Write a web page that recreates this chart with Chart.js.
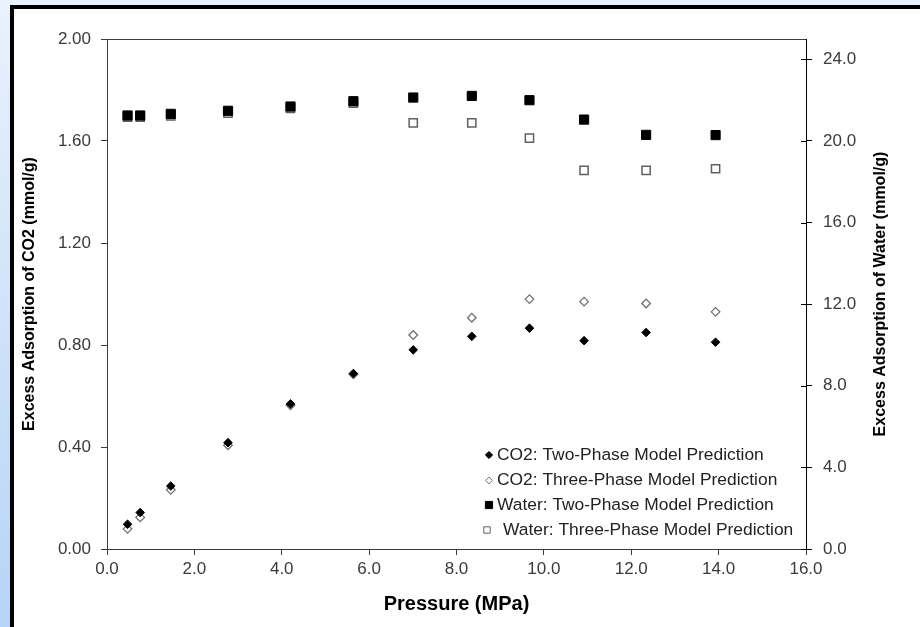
<!DOCTYPE html>
<html>
<head>
<meta charset="utf-8">
<script src="https://cdn.jsdelivr.net/npm/chart.js@4.4.1/dist/chart.umd.min.js"></script>
<style>
  html, body { margin: 0; padding: 0; }
  body { width: 920px; height: 627px; overflow: hidden; position: relative;
         background: linear-gradient(#e9f2fd, #b6d4f5); }
  #frame { position: absolute; left: 10px; top: 5px; width: 1000px; height: 700px;
           background: #fff; border-left: 4px solid #000; border-top: 4px solid #000; }
  #chart { position: absolute; left: 0; top: 0; }
</style>
</head>
<body>
<div id="frame"></div>
<canvas id="chart" width="920" height="627"></canvas>
<script>
// pressure (MPa) for every point
const pressure = [0.47, 0.76, 1.46, 2.77, 4.20, 5.64, 7.01, 8.35, 9.67, 10.92, 12.34, 13.93];

// CO2, left axis (mmol/g)
const co2TwoPhase   = [0.097, 0.143, 0.247, 0.417, 0.569, 0.688, 0.781, 0.834, 0.866, 0.817, 0.849, 0.811];
const co2ThreePhase = [0.079, 0.124, 0.232, 0.407, 0.564, 0.685, 0.839, 0.907, 0.980, 0.970, 0.963, 0.930];

// water, right axis (mmol/g)
const waterTwoPhase   = [21.25, 21.25, 21.33, 21.48, 21.69, 21.95, 22.13, 22.21, 22.00, 21.05, 20.30, 20.29];
const waterThreePhase = [21.17, 21.17, 21.23, 21.37, 21.60, 21.86, 20.89, 20.89, 20.14, 18.56, 18.56, 18.64];

const seriesLabels = [
  'CO2: Two-Phase Model Prediction',
  'CO2: Three-Phase Model Prediction',
  'Water: Two-Phase Model Prediction',
  'Water: Three-Phase Model Prediction'
];
const xTitle = 'Pressure (MPa)';
const leftTitle = 'Excess Adsorption of CO2 (mmol/g)';
const rightTitle = 'Excess Adsorption of Water (mmol/g)';

const FONT = '"Liberation Sans", Arial, sans-serif';
const AXIS = '#3c3c3c';

function points(ys) {
  return pressure.map((x, i) => ({x: x, y: ys[i]}));
}

function marker(ctx, style, x, y, r) {
  ctx.beginPath();
  if (style === 'rectRot') {
    ctx.moveTo(x, y - r); ctx.lineTo(x + r, y); ctx.lineTo(x, y + r); ctx.lineTo(x - r, y);
    ctx.closePath();
  } else {
    ctx.rect(x - r, y - r, 2 * r, 2 * r);
  }
  ctx.fill();
  ctx.stroke();
}

// legend sits inside the plot, bottom right, like the excel one
const insideLegend = {
  id: 'insideLegend',
  afterDraw(chart) {
    const ctx = chart.ctx;
    const rows = [455, 480.5, 505, 530];
    const sizes = [3.6, 3.4, 3.6, 3.2];
    ctx.save();
    chart.data.datasets.forEach((ds, i) => {
      const mx = i === 3 ? 487 : 489;
      const tx = i === 3 ? 503 : 497;
      ctx.fillStyle = ds.backgroundColor;
      ctx.strokeStyle = ds.borderColor;
      ctx.lineWidth = 1;
      marker(ctx, ds.pointStyle, mx, rows[i], sizes[i]);
      ctx.font = '17.4px ' + FONT;
      ctx.fillStyle = '#222';
      ctx.textBaseline = 'middle';
      ctx.textAlign = 'left';
      ctx.fillText(ds.label, tx, rows[i]);
    });
    ctx.restore();
  }
};

// right axis: ticks cross the line, title reads bottom to top
const rightAxisExtras = {
  id: 'rightAxisExtras',
  afterDraw(chart) {
    const ctx = chart.ctx;
    const sc = chart.scales.y2;
    const area = chart.chartArea;
    ctx.save();
    ctx.strokeStyle = '#000';
    ctx.lineWidth = 1;
    sc.ticks.forEach(t => {
      const py = Math.round(sc.getPixelForValue(t.value)) + 0.5;
      ctx.beginPath();
      ctx.moveTo(area.right - 5, py);
      ctx.lineTo(area.right, py);
      ctx.stroke();
    });
    ctx.translate(881, (area.top + area.bottom) / 2);
    ctx.rotate(-Math.PI / 2);
    ctx.font = 'bold 16px ' + FONT;
    ctx.fillStyle = '#000';
    ctx.textAlign = 'center';
    ctx.textBaseline = 'middle';
    ctx.fillText(rightTitle, 0, 0);
    ctx.restore();
  }
};

const tickFont = {family: FONT, size: 17};

const ctx = document.getElementById('chart').getContext('2d');
const chart = new Chart(ctx, {
  type: 'scatter',
  data: {
    datasets: [
      {
        label: seriesLabels[0], data: points(co2TwoPhase), yAxisID: 'y',
        pointStyle: 'rectRot', pointRadius: 4.3, pointHoverRadius: 4.3,
        backgroundColor: '#000', borderColor: '#000', borderWidth: 1
      },
      {
        label: seriesLabels[1], data: points(co2ThreePhase), yAxisID: 'y',
        pointStyle: 'rectRot', pointRadius: 4.3, pointHoverRadius: 4.3,
        backgroundColor: '#fff', borderColor: '#707070', borderWidth: 1.3
      },
      {
        label: seriesLabels[2], data: points(waterTwoPhase), yAxisID: 'y2',
        pointStyle: 'rect', pointRadius: 6.5, pointHoverRadius: 6.5,
        backgroundColor: '#000', borderColor: '#000', borderWidth: 1
      },
      {
        label: seriesLabels[3], data: points(waterThreePhase), yAxisID: 'y2',
        pointStyle: 'rect', pointRadius: 5.8, pointHoverRadius: 5.8,
        backgroundColor: '#fff', borderColor: '#606060', borderWidth: 1.5
      }
    ]
  },
  options: {
    responsive: false,
    animation: false,
    layout: { padding: { top: 39, left: 0, right: 0, bottom: 0 } },
    plugins: { legend: { display: false }, tooltip: { enabled: false } },
    scales: {
      x: {
        type: 'linear', position: 'bottom', min: 0, max: 16,
        afterFit: s => { s.height = 78; },
        ticks: { stepSize: 2, font: tickFont, color: '#3a3a3a', padding: 4,
                 callback: v => v.toFixed(1) },
        grid: { drawOnChartArea: false, tickLength: 6, color: AXIS },
        border: { color: AXIS },
        title: { display: true, text: xTitle, color: '#000',
                 font: { family: FONT, size: 20, weight: 'bold' },
                 padding: { top: 0, bottom: 11 } }
      },
      x2: {
        type: 'linear', position: 'top', min: 0, max: 16,
        afterFit: s => { s.height = 0; },
        ticks: { display: false },
        grid: { drawOnChartArea: false, drawTicks: false, color: AXIS },
        border: { color: AXIS }
      },
      y: {
        type: 'linear', position: 'left', min: 0, max: 2,
        afterFit: s => { s.width = 107; },
        ticks: { stepSize: 0.4, font: tickFont, color: '#3a3a3a', padding: 10,
                 callback: v => v.toFixed(2) },
        grid: { drawOnChartArea: false, tickLength: 6, color: AXIS },
        border: { color: AXIS },
        title: { display: true, text: leftTitle, color: '#000',
                 font: { family: FONT, size: 16, weight: 'bold' },
                 padding: { top: 20, bottom: 0 } }
      },
      y2: {
        type: 'linear', position: 'right', min: 0, max: 25,
        afterFit: s => { s.width = 114; },
        ticks: { stepSize: 4, includeBounds: false, font: tickFont, color: '#3a3a3a', padding: 11,
                 callback: v => v.toFixed(1) },
        grid: { drawOnChartArea: false, tickLength: 6, color: '#000' },
        border: { color: '#000' }
      }
    }
  },
  plugins: [insideLegend, rightAxisExtras]
});
</script>
</body>
</html>
